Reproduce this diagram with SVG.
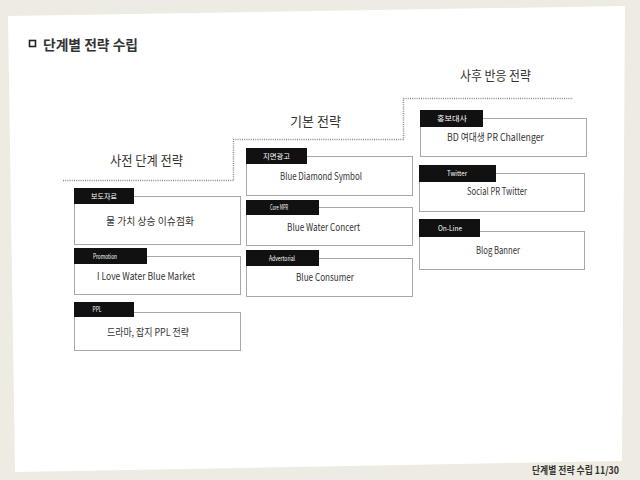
<svg xmlns="http://www.w3.org/2000/svg" width="640" height="480" viewBox="0 0 640 480">
<style>
text{font-family:"Noto Sans CJK KR","Noto Sans",sans-serif;fill:#333}
.box{fill:#fff;stroke:#a8a8a8;stroke-width:1}
.tab{fill:#111}
.tl{fill:#fff;font-size:7px;text-anchor:middle}
.bt{font-size:10px;text-anchor:middle}
.st{font-size:13px;text-anchor:middle}
.dot{fill:none;stroke:#888;stroke-width:1.5;stroke-dasharray:1 1.2}
</style>
<rect width="640" height="480" fill="#eeebe2"/>
<polygon points="8,16 625,6 622,461 15,472" fill="#fff"/>
<g id="title">
<rect x="29.5" y="40.5" width="6" height="6" fill="none" stroke="#222" stroke-width="1.6"/>
<text x="43" y="50" font-size="14" font-weight="bold" fill="#222" textLength="95" lengthAdjust="spacingAndGlyphs">단계별 전략 수립</text>
</g>
<g id="connectors">
<polyline class="dot" points="63,180.5 233.5,180.5 233.5,139.5 403.5,139.5 403.5,98.5 573,98.5"/>
</g>
<g id="stage1"><text class="st" x="146.5" y="165" textLength="73" lengthAdjust="spacingAndGlyphs">사전 단계 전략</text></g>
<g id="stage2"><text class="st" x="315.5" y="126" textLength="51" lengthAdjust="spacingAndGlyphs">기본 전략</text></g>
<g id="stage3"><text class="st" x="495.5" y="80" textLength="71" lengthAdjust="spacingAndGlyphs">사후 반응 전략</text></g>

<g id="n1">
<rect class="box" x="74.5" y="196.5" width="166" height="48"/>
<rect class="tab" x="74" y="188" width="60" height="16"/>
<text class="tl" x="104" y="198.5" textLength="26" lengthAdjust="spacingAndGlyphs">보도자료</text>
<text class="bt" x="150" y="225" textLength="88" lengthAdjust="spacingAndGlyphs">물 가치 상승 이슈점화</text>
</g>
<g id="n2">
<rect class="box" x="74.5" y="256.5" width="166" height="38"/>
<rect class="tab" x="74" y="248" width="73" height="16"/>
<text class="tl" x="105" y="258.5" textLength="24" lengthAdjust="spacingAndGlyphs">Promotion</text>
<text class="bt" x="146" y="279.5" textLength="98" lengthAdjust="spacingAndGlyphs">I Love Water Blue Market</text>
</g>
<g id="n3">
<rect class="box" x="74.5" y="312.5" width="166" height="38"/>
<rect class="tab" x="74" y="302" width="60" height="15"/>
<text class="tl" x="97" y="312" textLength="9" lengthAdjust="spacingAndGlyphs">PPL</text>
<text class="bt" x="148" y="336" textLength="82" lengthAdjust="spacingAndGlyphs">드라마, 잡지 PPL 전략</text>
</g>

<g id="n4">
<rect class="box" x="246.5" y="156.5" width="166" height="39"/>
<rect class="tab" x="246" y="148" width="61" height="16"/>
<text class="tl" x="276.5" y="158.5" textLength="27" lengthAdjust="spacingAndGlyphs">지면광고</text>
<text class="bt" x="321" y="179.5" textLength="82" lengthAdjust="spacingAndGlyphs">Blue Diamond Symbol</text>
</g>
<g id="n5">
<rect class="box" x="246.5" y="207.5" width="166" height="38"/>
<rect class="tab" x="246" y="200" width="73" height="15"/>
<text class="tl" x="279" y="210" textLength="18" lengthAdjust="spacingAndGlyphs">Core MPR</text>
<text class="bt" x="323.5" y="230.5" textLength="73" lengthAdjust="spacingAndGlyphs">Blue Water Concert</text>
</g>
<g id="n6">
<rect class="box" x="246.5" y="258.5" width="166" height="38"/>
<rect class="tab" x="246" y="250" width="73" height="16"/>
<text class="tl" x="282" y="260.5" textLength="26" lengthAdjust="spacingAndGlyphs">Advertorial</text>
<text class="bt" x="325" y="280.5" textLength="58" lengthAdjust="spacingAndGlyphs">Blue Consumer</text>
</g>

<g id="n7">
<rect class="box" x="420.5" y="118.5" width="166" height="38"/>
<rect class="tab" x="420" y="110" width="63" height="17"/>
<text class="tl" x="452" y="121" textLength="30" lengthAdjust="spacingAndGlyphs">홍보대사</text>
<text class="bt" x="495.5" y="140.5" textLength="97" lengthAdjust="spacingAndGlyphs">BD 여대생 PR Challenger</text>
</g>
<g id="n8">
<rect class="box" x="419.5" y="173.5" width="165" height="38"/>
<rect class="tab" x="419" y="165" width="77" height="17"/>
<text class="tl" x="457" y="176" textLength="20" lengthAdjust="spacingAndGlyphs">Twitter</text>
<text class="bt" x="497" y="194.5" textLength="60" lengthAdjust="spacingAndGlyphs">Social PR Twitter</text>
</g>
<g id="n9">
<rect class="box" x="419.5" y="231.5" width="165" height="38"/>
<rect class="tab" x="419" y="219" width="61" height="18"/>
<text class="tl" x="450" y="230.5" textLength="24" lengthAdjust="spacingAndGlyphs">On-Line</text>
<text class="bt" x="498" y="253.5" textLength="44" lengthAdjust="spacingAndGlyphs">Blog Banner</text>
</g>

<g id="footer">
<text x="532" y="474" font-size="10" font-weight="bold" fill="#333" textLength="87" lengthAdjust="spacingAndGlyphs">단계별 전략 수립 11/30</text>
</g>
</svg>
